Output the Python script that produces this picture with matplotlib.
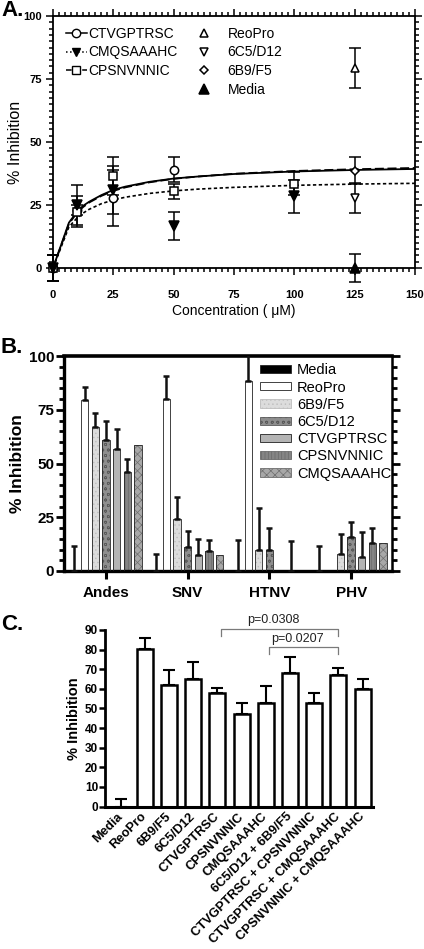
import matplotlib
matplotlib.use("Agg")
import matplotlib.pyplot as plt
import numpy as np
from matplotlib.ticker import MultipleLocator
from matplotlib.patches import Patch

plt.rcParams["font.family"] = ["Liberation Sans", "DejaVu Sans"]
plt.rcParams["hatch.linewidth"] = 0.5

# ---- panel A: dose response ----
conc_ctv = [0, 10, 25, 50]
inh_ctv = [0, 23, 27.7, 39]
err_ctv = [5, 2, 11, 5]
conc_cmq = [0, 10, 25, 50, 100]
inh_cmq = [0, 25, 31, 16.7, 28.4]
err_cmq = [5, 8, 9.5, 5.5, 6.4]
conc_cps = [0, 10, 25, 50, 100]
inh_cps = [0, 22.4, 36.4, 30.4, 33.5]
err_cps = [5, 6, 7.6, 3, 4.5]

ctrl_names = ["ReoPro", "6C5/D12", "6B9/F5", "Media"]
ctrl_conc = 125
ctrl_inh = [79.5, 27.8, 38.6, 0]
ctrl_err = [8, 5.8, 5.4, 5.5]

fit_x = [0, 6.6, 10, 12.5, 15, 20, 25, 30, 40, 50, 60, 75, 100, 125, 150]
fit_ctv = [0, 18, 22.4, 24.7, 26.3, 28.9, 31, 32.3, 34.2, 35.5, 36.3, 37.3, 38.3, 38.9, 39.3]
fit_cps = [0, 17.5, 22, 24.2, 26, 28.6, 30.6, 32, 34, 35.4, 36.3, 37.4, 38.5, 39.2, 39.7]
fit_cmq = [0, 16.3, 19.9, 21.8, 23.3, 25.5, 27, 28.1, 29.6, 30.6, 31.3, 32, 32.8, 33.3, 33.6]

# ---- panel B: virus panel ----
viruses = ["Andes", "SNV", "HTNV", "PHV"]
b_series = ["Media", "ReoPro", "6B9/F5", "6C5/D12", "CTVGPTRSC", "CPSNVNNIC", "CMQSAAAHC"]
b_media = [0, 0, 0, 0]
b_media_err = [11.5, 8, 14.3, 11.5]
b_reopro = [79.7, 80, 88.5, 0]
b_reopro_err = [6, 10.5, 15, 0]
b_6b9 = [66.8, 24, 10, 8]
b_6b9_err = [6.5, 10.6, 19.5, 9]
b_6c5 = [60.8, 11, 10, 16]
b_6c5_err = [8.8, 7.5, 10, 7]
b_ctv = [56.7, 7.4, 0, 6.5]
b_ctv_err = [9.2, 7.6, 0, 11.5]
b_cps = [46, 9.2, 0, 13]
b_cps_err = [6, 5, 14, 7]
b_cmq = [58.5, 7.4, 0, 13]
b_cmq_err = [0, 0, 0, 0]

# ---- panel C: combinations ----
c_labels = ["Media", "ReoPro", "6B9/F5", "6C5/D12", "CTVGPTRSC", "CPSNVNNIC",
            "CMQSAAAHC", "6C5/D12 + 6B9/F5", "CTVGPTRSC + CPSNVNNIC",
            "CTVGPTRSC + CMQSAAAHC", "CPSNVNNIC + CMQSAAAHC"]
c_vals = [0, 80.4, 62.1, 65.2, 57.9, 47.3, 52.8, 68.1, 52.8, 66.9, 59.7]
c_err = [3.7, 5.4, 7.5, 8.5, 2.5, 5.7, 8.5, 8.3, 5.2, 3.6, 5.3]
c_pvals = [("p=0.0308", 4, 9), ("p=0.0207", 6, 9)]

W, H = 424, 949
fig = plt.figure(figsize=(W / 100, H / 100), dpi=100)


def px_axes(l, t, r, b):
    return fig.add_axes([l / W, 1 - b / H, (r - l) / W, (b - t) / H])


# ================= A =================
axA = px_axes(53, 16, 415, 268)
axA.plot(fit_x, fit_ctv, "-", color="black", lw=1.3)
axA.plot(fit_x, fit_cps, "--", color="black", lw=1.3, dashes=(5, 2))
axA.plot(fit_x, fit_cmq, ":", color="black", lw=1.2, dashes=(2, 1.5))

eb = dict(ecolor="black", elinewidth=1.1, capsize=4, capthick=1.1, clip_on=False, zorder=3)
axA.errorbar(conc_ctv, inh_ctv, yerr=err_ctv, fmt="o", mfc="white", mec="black",
             ms=6, mew=1.1, **eb)
axA.errorbar(conc_cps, inh_cps, yerr=err_cps, fmt="s", mfc="white", mec="black",
             ms=6, mew=1.1, **eb)
axA.errorbar(conc_cmq, inh_cmq, yerr=err_cmq, fmt="v", mfc="black", mec="black",
             ms=6.5, mew=1.1, **eb)
ctrl_fmt = [("^", "white"), ("v", "white"), ("D", "white"), ("^", "black")]
ctrl_ms = [6, 6, 4, 7]
for (mk, fc), y, e, ms in zip(ctrl_fmt, ctrl_inh, ctrl_err, ctrl_ms):
    axA.errorbar([ctrl_conc], [y], yerr=[e], fmt=mk, mfc=fc, mec="black", ms=ms,
                 mew=1.1, **eb)

axA.set_xlim(0, 150)
axA.set_ylim(0, 100)
axA.xaxis.set_major_locator(MultipleLocator(25))
axA.xaxis.set_minor_locator(MultipleLocator(2.5))
axA.yaxis.set_major_locator(MultipleLocator(25))
axA.yaxis.set_minor_locator(MultipleLocator(2.5))
axA.tick_params(which="both", direction="out", top=True, right=True, width=1.1)
axA.tick_params(which="major", length=5)
axA.tick_params(which="minor", length=3)
axA.tick_params(axis="x", which="major", pad=11, labelsize=8)
axA.tick_params(axis="y", which="major", pad=3, labelsize=8)
for lab in axA.get_xticklabels() + axA.get_yticklabels():
    lab.set_fontweight("bold")
for sp in axA.spines.values():
    sp.set_linewidth(1.3)
axA.set_xlabel("Concentration ( \u03bcM)", fontsize=10, labelpad=3)
axA.set_ylabel("% Inhibition", fontsize=11.5, labelpad=0)

h1 = [
    plt.Line2D([], [], ls="-", color="black", marker="o", mfc="white", mec="black", ms=6, lw=1.1),
    plt.Line2D([], [], ls=":", color="black", marker="v", mfc="black", mec="black", ms=6, lw=1.1),
    plt.Line2D([], [], ls="--", color="black", marker="s", mfc="white", mec="black", ms=6, lw=1.1),
]
leg1 = axA.legend(h1, ["CTVGPTRSC", "CMQSAAAHC", "CPSNVNNIC"], loc="upper left",
                  bbox_to_anchor=(0.02, 0.98), frameon=False, fontsize=10,
                  handlelength=1.5, handletextpad=0.1, labelspacing=0.35,
                  borderaxespad=0)
axA.add_artist(leg1)
h2 = [plt.Line2D([], [], ls="none", marker=m, mfc=fc, mec="black", ms=s, mew=1.1)
      for (m, fc), s in zip(ctrl_fmt, ctrl_ms)]
axA.legend(h2, ctrl_names, loc="upper left", bbox_to_anchor=(0.39, 0.98),
           frameon=False, fontsize=10, handlelength=0.6, handletextpad=1.4,
           labelspacing=0.35, borderaxespad=0)

# ================= B =================
axB = px_axes(64, 356, 392, 571)
b_vals = [b_media, b_reopro, b_6b9, b_6c5, b_ctv, b_cps, b_cmq]
b_errs = [b_media_err, b_reopro_err, b_6b9_err, b_6c5_err, b_ctv_err, b_cps_err, b_cmq_err]
b_face = ["black", "white", "#dcdcdc", "#8e8e8e", "#b4b4b4", "#858585", "#a8a8a8"]
b_hatch = [None, None, "....", "ooo", None, "|||||", "xxxx"]
b_hcol = ["black", "black", "#bdbdbd", "#5a5a5a", "#b4b4b4", "#6a6a6a", "#6e6e6e"]
gx = np.arange(len(viruses))
step, bw = 0.13, 0.09
for i, (name, vals, errs) in enumerate(zip(b_series, b_vals, b_errs)):
    xs = gx + (i - 3) * step
    axB.bar(xs, vals, bw, color=b_face[i], hatch=b_hatch[i], edgecolor=b_hcol[i],
            linewidth=0, zorder=2)
    axB.bar(xs, vals, bw, fill=False, edgecolor="#222222", linewidth=0.6, zorder=3)
    errs = np.asarray(errs, dtype=float)
    m = errs > 0
    axB.errorbar(xs[m], np.asarray(vals)[m], yerr=[np.zeros(m.sum()), errs[m]],
                 fmt="none", ecolor="#111111", elinewidth=1.8, capsize=2.5,
                 capthick=1.8, zorder=4)

axB.set_xlim(-0.514, 3.5)
axB.set_ylim(0, 100)
axB.set_xticks(gx)
axB.set_xticklabels(viruses, fontsize=11, fontweight="bold")
axB.yaxis.set_major_locator(MultipleLocator(25))
axB.yaxis.set_minor_locator(MultipleLocator(5))
axB.tick_params(axis="y", which="both", direction="out", right=True, width=2)
axB.tick_params(axis="y", which="major", length=6, labelsize=11, pad=1)
axB.tick_params(axis="y", which="minor", length=3.5)
axB.tick_params(axis="x", which="major", direction="out", length=6, width=2.2, pad=5)
for lab in axB.get_yticklabels():
    lab.set_fontweight("bold")
axB.spines["left"].set_linewidth(2.4)
axB.spines["bottom"].set_linewidth(2.4)
axB.spines["top"].set_linewidth(2.6)
axB.spines["right"].set_linewidth(1.8)
axB.set_ylabel("% Inhibition", fontsize=12.5, fontweight="bold", labelpad=3)

b_handles = [Patch(facecolor=b_face[i], hatch=b_hatch[i], edgecolor=b_hcol[i] if b_hatch[i] else "#222222",
                   linewidth=0.6) for i in range(len(b_series))]
axB.legend(b_handles, b_series, loc="upper left", bbox_to_anchor=(0.575, 1.0),
           frameon=False, fontsize=10.5, handlelength=2.1, handleheight=0.5,
           handletextpad=0.45, labelspacing=0.22, borderaxespad=0.1)

# ================= C =================
axC = px_axes(105, 630, 373, 806.5)
cx = np.arange(len(c_labels))
axC.bar(cx, c_vals, 0.66, color="white", edgecolor="black", linewidth=1.8, zorder=2)
axC.errorbar(cx, c_vals, yerr=[np.zeros(len(c_err)), c_err], fmt="none",
             ecolor="black", elinewidth=1.5, capsize=4, capthick=1.5, zorder=1)
axC.set_xlim(-0.65, 10.43)
axC.set_ylim(0, 90)
axC.yaxis.set_major_locator(MultipleLocator(10))
axC.set_xticks(cx)
axC.set_xticklabels(c_labels, rotation=45, ha="right", va="center",
                    rotation_mode="anchor", fontsize=9.3, fontweight="bold")
axC.tick_params(axis="x", length=0, pad=6)
axC.tick_params(axis="y", direction="out", length=4, width=1.8, labelsize=8.5, pad=1)
for lab in axC.get_yticklabels():
    lab.set_fontweight("bold")
for s in ["top", "right"]:
    axC.spines[s].set_visible(False)
axC.spines["left"].set_linewidth(2)
axC.spines["bottom"].set_linewidth(2.2)
axC.set_ylabel("% Inhibition", fontsize=10.5, fontweight="bold", labelpad=3)

for (txt, i0, i1), ytop in zip(c_pvals, [90.6, 81.4]):
    axC.plot([i0 + 0.15, i0 + 0.15, i1, i1], [ytop - 3.7, ytop, ytop, ytop - 3.7],
             color="#7a7a7a", lw=0.9, clip_on=False)
    axC.text((i0 + i1) / 2 - 0.2, ytop + 1.2, txt, ha="center", va="bottom",
             fontsize=9, color="#222222", clip_on=False)

# panel letters
fig.text(1 / W, 1 - 16 / H, "A.", fontsize=16, fontweight="bold", va="baseline")
fig.text(1 / W, 1 - 353 / H, "B.", fontsize=16, fontweight="bold", va="baseline")
fig.text(1 / W, 1 - 630 / H, "C.", fontsize=16, fontweight="bold", va="baseline")

fig.savefig("out.png", dpi=100)
